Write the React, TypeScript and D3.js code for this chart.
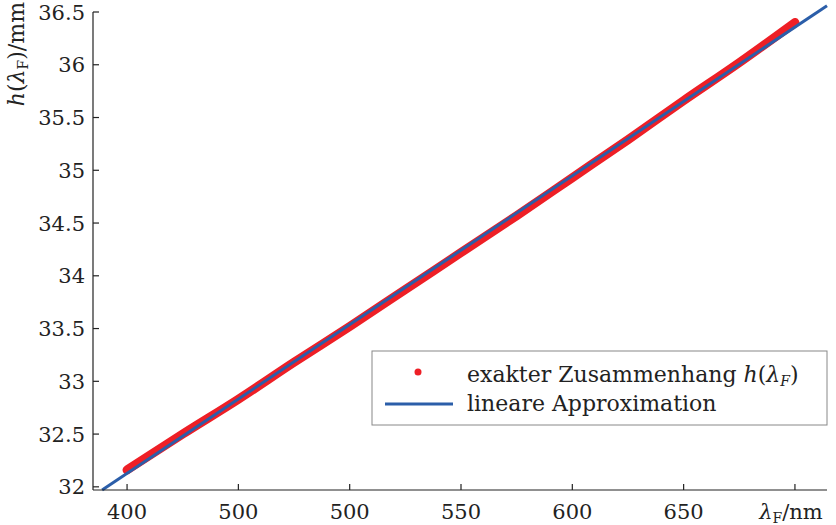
import * as d3 from 'd3';

const W = 836;
const H = 525;

const xTicks = [400, 450, 500, 550, 600, 650, 700];
const xTickLabels = ['400', '500', '500', '550', '600', '650', ''];
const yTicks = [32, 32.5, 33, 33.5, 34, 34.5, 35, 35.5, 36, 36.5];
const yTickLabels = ['32', '32.5', '33', '33.5', '34', '34.5', '35', '35.5', '36', '36.5'];

// exakter Zusammenhang h(λF)
const lambda = [400, 425, 450, 475, 500, 525, 550, 575, 600, 625, 650, 675, 700];
const hExact = [32.16, 32.5, 32.83, 33.18, 33.52, 33.87, 34.22, 34.57, 34.93, 35.29, 35.66, 36.02, 36.4];

// lineare Approximation (endpoints)
const approxLambda = [388.8, 714.4];
const approxH = [31.97, 36.56];

const RED = '#ee1f26';
const BLUE = '#2b5ea9';
const AXIS = '#222';
const FONT = 'DejaVu Serif';
const FS = 21;
const SUB = 14;

export default function App() {
  const x = d3.scaleLinear().domain([384.7, 714.4]).range([93, 827]);
  const y = d3.scaleLinear().domain([31.97, 36.5]).range([490, 12]);

  const exactLine = d3
    .line<number>()
    .curve(d3.curveMonotoneX)
    .x((d, i) => x(lambda[i]))
    .y((d) => y(d));

  const approxLine = d3
    .line<number>()
    .x((d, i) => x(approxLambda[i]))
    .y((d) => y(d));

  const x0 = x.range()[0];
  const x1 = x.range()[1];
  const y0 = y.range()[0];
  const y1 = y.range()[1];

  return (
    <svg
      width={W}
      height={H}
      style={{ position: 'absolute', left: 0, top: 0, background: '#fff' }}
      fontFamily={FONT}
    >
      {/* data */}
      <path
        d={exactLine(hExact) ?? ''}
        fill="none"
        stroke={RED}
        strokeWidth={9}
        strokeLinecap="round"
        strokeLinejoin="round"
      />
      <path d={approxLine(approxH) ?? ''} fill="none" stroke={BLUE} strokeWidth={3} />

      {/* axes */}
      <line x1={x0} x2={x0} y1={y1} y2={y0} stroke={AXIS} strokeWidth={1.2} />
      <line x1={x0} x2={x1} y1={y0} y2={y0} stroke={AXIS} strokeWidth={1.2} />
      {yTicks.map((t, i) => (
        <g key={'y' + t}>
          <line x1={x0} x2={x0 + 6} y1={y(t)} y2={y(t)} stroke={AXIS} strokeWidth={1.2} />
          <text x={x0 - 8} y={y(t)} dy="0.36em" textAnchor="end" fontSize={FS} fill="#222">
            {yTickLabels[i]}
          </text>
        </g>
      ))}
      {xTicks.map((t, i) => (
        <g key={'x' + t}>
          <line x1={x(t)} x2={x(t)} y1={y0} y2={y0 - 6} stroke={AXIS} strokeWidth={1.2} />
          <text x={x(t)} y={519} textAnchor="middle" fontSize={FS} fill="#222">
            {xTickLabels[i]}
          </text>
        </g>
      ))}
      {/* x axis label in place of the last tick label */}
      <text x={x(700) - 4} y={519} textAnchor="middle" fontSize={FS} fill="#222">
        <tspan fontStyle="italic">λ</tspan>
        <tspan fontSize={SUB} dy={4}>F</tspan>
        <tspan dy={-4}>/nm</tspan>
      </text>
      {/* y axis label */}
      <text
        transform="translate(24,2) rotate(-90)"
        textAnchor="end"
        fontSize={22}
        fill="#222"
      >
        <tspan fontStyle="italic">h</tspan>
        <tspan>(</tspan>
        <tspan fontStyle="italic">λ</tspan>
        <tspan fontSize={SUB} dy={4}>F</tspan>
        <tspan dy={-4}>)/mm</tspan>
      </text>

      {/* legend */}
      <rect x={372} y={351} width={455} height={74} fill="#fff" stroke="#888" strokeWidth={1} />
      <circle cx={418} cy={372} r={3.5} fill={RED} />
      <text x={467} y={382} fontSize={22} fill="#222">
        exakter Zusammenhang <tspan fontStyle="italic">h</tspan>(
        <tspan fontStyle="italic">λ</tspan>
        <tspan fontStyle="italic" fontSize={SUB} dy={4}>F</tspan>
        <tspan dy={-4}>)</tspan>
      </text>
      <line x1={385} x2={453} y1={404} y2={404} stroke={BLUE} strokeWidth={3} />
      <text x={467} y={411} fontSize={22} fill="#222">
        lineare Approximation
      </text>
    </svg>
  );
}
